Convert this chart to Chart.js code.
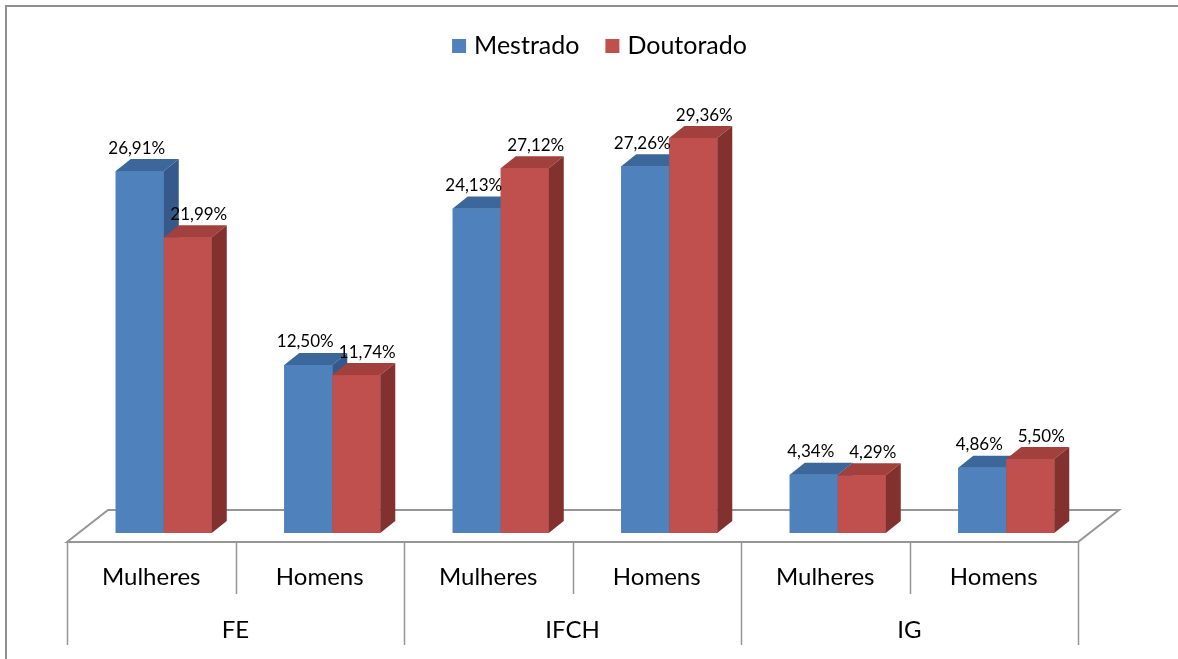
<!DOCTYPE html>
<html>
<head>
<meta charset="utf-8">
<script src="https://cdn.jsdelivr.net/npm/chart.js@4"></script>
<style>
  html, body { margin: 0; padding: 0; background: #fff; overflow: hidden; }
  canvas { display: block; }
</style>
</head>
<body>
<canvas id="chart" width="1178" height="659"></canvas>
<script>
// data
const groups = ['FE', 'IFCH', 'IG'];
const subgroups = ['Mulheres', 'Homens'];
const seriesNames = ['Mestrado', 'Doutorado'];
const mestrado = [26.91, 12.50, 24.13, 27.26, 4.34, 4.86];
const doutorado = [21.99, 11.74, 27.12, 29.36, 4.29, 5.50];

const categories = [];
groups.forEach(g => subgroups.forEach(s => categories.push(g + ' ' + s)));

// styling
const FONT = 'Lato, "Open Sans", sans-serif';
const faces = [
    { front: '#4f81bd', top: '#3c679a', side: '#34598a' },
    { front: '#c0504d', top: '#a1403d', side: '#83312f' }
];
const DEPTH_X = 15, DEPTH_Y = 12;     // bar depth
const FLOOR_SHIFT = 12.5;             // floor sits a bit left of the bars
const FLOOR_DX = 41, FLOOR_DY = 32;   // floor depth
const FLOOR_FRONT_GAP = 9;            // floor front edge below bar bottoms
const LINE = '#969696';

function fmt(v) {
    return v.toFixed(2).replace('.', ',') + '%';
}

const bars3d = {
    id: 'bars3d',
    beforeDatasetsDraw(chart) {
        const { ctx, chartArea } = chart;
        const xs = chart.scales.x;
        const left = chartArea.left - FLOOR_SHIFT;
        const right = chartArea.right - FLOOR_SHIFT;
        const front = chartArea.bottom + FLOOR_FRONT_GAP;
        ctx.save();
        // outer frame (top and left only visible)
        ctx.strokeStyle = '#8e8e8e';
        ctx.lineWidth = 2;
        ctx.beginPath();
        ctx.moveTo(6, chart.height);
        ctx.lineTo(6, 6);
        ctx.lineTo(chart.width, 6);
        ctx.stroke();

        // floor
        ctx.strokeStyle = LINE;
        ctx.lineWidth = 2;
        ctx.beginPath();
        ctx.moveTo(left, front);
        ctx.lineTo(left + FLOOR_DX, front - FLOOR_DY);
        ctx.lineTo(right + FLOOR_DX, front - FLOOR_DY);
        ctx.lineTo(right, front);
        ctx.closePath();
        ctx.stroke();

        // category separators and labels
        const step = (right - left) / categories.length;
        ctx.lineWidth = 1.5;
        for (let i = 0; i <= categories.length; i++) {
            const x = Math.round(left + i * step) + 0.5;
            const full = i % subgroups.length === 0;
            ctx.beginPath();
            ctx.moveTo(x, front);
            ctx.lineTo(x, front + (full ? 103 : 52));
            ctx.stroke();
        }
        ctx.fillStyle = '#000';
        ctx.textAlign = 'center';
        ctx.textBaseline = 'middle';
        ctx.font = '24px ' + FONT;
        categories.forEach((c, i) => {
            const x = xs.getPixelForValue(i) - FLOOR_SHIFT;
            ctx.fillText(subgroups[i % subgroups.length], x, front + 35);
        });
        groups.forEach((g, gi) => {
            const x = left + (gi + 0.5) * step * subgroups.length;
            ctx.fillText(g, x, front + 88);
        });

        // legend
        ctx.font = '25px ' + FONT;
        const box = 14, gapBox = 8, gapItem = 26;
        const widths = chart.data.datasets.map(d => box + gapBox + ctx.measureText(d.label).width);
        const total = widths.reduce((a, b) => a + b, 0) + gapItem * (widths.length - 1);
        let lx = (left + right) / 2 - total / 2 + 27;
        const ly = 46;
        ctx.textAlign = 'left';
        chart.data.datasets.forEach((d, k) => {
            ctx.fillStyle = faces[k].front;
            ctx.fillRect(lx, ly - box / 2, box, box);
            ctx.fillStyle = '#000';
            ctx.fillText(d.label, lx + box + gapBox, ly);
            lx += widths[k] + gapItem;
        });
        ctx.restore();
    },
    afterDatasetsDraw(chart) {
        const { ctx } = chart;
        const metas = chart.data.datasets.map((d, k) => chart.getDatasetMeta(k));
        ctx.save();
        // per category: Mestrado first, then Doutorado in front of its side
        for (let i = 0; i < categories.length; i++) {
            metas.forEach((meta, k) => {
                const el = meta.data[i];
                const x0 = el.x - el.width / 2, x1 = el.x + el.width / 2;
                const top = el.y, base = el.base;
                const f = faces[k];
                ctx.fillStyle = f.front;
                ctx.fillRect(x0, top, x1 - x0, base - top);
                ctx.fillStyle = f.top;
                ctx.beginPath();
                ctx.moveTo(x0, top);
                ctx.lineTo(x0 + DEPTH_X, top - DEPTH_Y);
                ctx.lineTo(x1 + DEPTH_X, top - DEPTH_Y);
                ctx.lineTo(x1, top);
                ctx.closePath();
                ctx.fill();
                ctx.fillStyle = f.side;
                ctx.beginPath();
                ctx.moveTo(x1, top);
                ctx.lineTo(x1 + DEPTH_X, top - DEPTH_Y);
                ctx.lineTo(x1 + DEPTH_X, base - DEPTH_Y);
                ctx.lineTo(x1, base);
                ctx.closePath();
                ctx.fill();
            });
        }
        // value labels
        ctx.fillStyle = '#000';
        ctx.font = '17px ' + FONT;
        ctx.textAlign = 'center';
        ctx.textBaseline = 'middle';
        metas.forEach((meta, k) => {
            const vals = chart.data.datasets[k].data;
            meta.data.forEach((el, i) => {
                ctx.fillText(fmt(vals[i]), el.x + (k === 1 ? 11 : -3), el.y - 23);
            });
        });
        ctx.restore();
    }
};

new Chart(document.getElementById('chart'), {
    type: 'bar',
    data: {
        labels: categories,
        datasets: [
            { label: seriesNames[0], data: mestrado, backgroundColor: faces[0].front, borderWidth: 0 },
            { label: seriesNames[1], data: doutorado, backgroundColor: faces[1].front, borderWidth: 0 }
        ]
    },
    options: {
        responsive: false,
        animation: false,
        devicePixelRatio: 1,
        categoryPercentage: 0.57,
        barPercentage: 1,
        layout: { padding: { top: 129.5, bottom: 126, left: 79.5, right: 87.5 } },
        scales: {
            x: { display: false },
            y: { display: false, min: 0, max: 30 }
        },
        plugins: {
            legend: { display: false },
            tooltip: { enabled: false }
        }
    },
    plugins: [bars3d]
});
</script>
</body>
</html>
